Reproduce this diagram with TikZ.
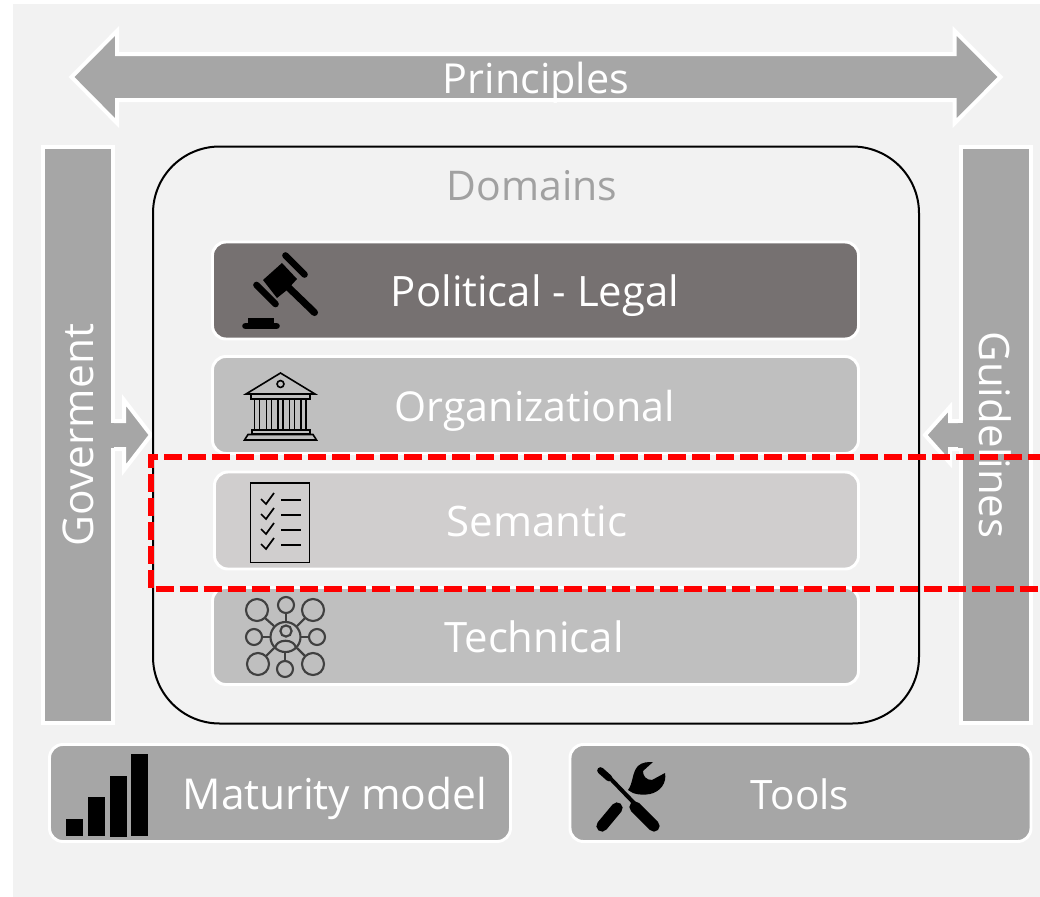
\documentclass[tikz,border=0pt]{standalone}
\usepackage{fontspec}
\setmainfont{Open Sans}
\definecolor{bg}{HTML}{F2F2F2}
\definecolor{midg}{HTML}{A6A6A6}
\definecolor{darkg}{HTML}{767171}
\definecolor{ltg}{HTML}{BFBFBF}
\definecolor{semg}{HTML}{D0CECE}
\newcommand{\fsz}[1]{\fontsize{#1}{36}\selectfont}
\begin{document}
\begin{tikzpicture}[x=0.75pt,y=-0.75pt,line join=miter,
  lab/.style={text=white,anchor=base,inner sep=0pt,font=\fsz{#1}},
  lab/.default=31.5,
  rowbox/.style={draw=white,line width=2.2pt,rounded corners=10pt,inner sep=0pt,minimum height=72.75pt},
  sidebar/.style={draw=white,line width=3pt,fill=midg,inner sep=0pt,minimum width=52.5pt,minimum height=432pt},
  whiteline/.style={draw=white,line width=3pt,fill=midg},
  redframe/.style={draw=red,line width=4.5pt,dash pattern=on 13.5pt off 4.5pt},
]
\useasboundingbox (0,0) rectangle (1040,897);
\fill[bg] (13,4) rectangle (1040,897);

% Principles
\draw[whiteline] (71.5,77) -- (117,31) -- (117,54) -- (954.7,54) -- (954.7,31) -- (1000.5,77) -- (954.7,123) -- (954.7,100) -- (117,100) -- (117,123) -- cycle;
\node[lab=31] (principles) at (536,93) {Principles};

% Side bars
\node[sidebar] (gov) at (77.5,435) {};
\node[sidebar] (guide) at (996,435) {};
% side arrows
\draw[whiteline] (112,421) -- (124,421) -- (124,400) -- (151,435) -- (124,470) -- (124,449) -- (112,449);
\fill[midg] (108,422.5) rectangle (114,447.5);
\draw[whiteline] (962,421) -- (950,421) -- (950,407) -- (925,435) -- (950,463) -- (950,449) -- (962,449);
\fill[midg] (958,422.5) rectangle (965,447.5);
\node[lab=31.8,rotate=90] (govt) at (93,435) {Goverment};
\node[lab=31.5,rotate=-90] (guidet) at (979,435) {Guidelines};

% Domains frame
\node[draw=black,line width=1.5pt,rounded corners=50pt,minimum width=574.5pt,minimum height=432.75pt,inner sep=0pt] (domains) at (536,435) {};
\node[text=black!37,anchor=base,font=\fsz{30.7},inner sep=0pt] (domt) at (532,200.5) {Domains};

% Domain rows
\node[rowbox,fill=darkg,minimum width=484.5pt] (pol) at (535.5,290.5) {};
\node[rowbox,fill=ltg,minimum width=484.5pt] (org) at (535.5,405) {};
\node[rowbox,fill=semg,minimum width=483pt] (sem) at (536.5,520.5) {};
\node[rowbox,fill=ltg,minimum width=484.5pt] (tec) at (535.5,636) {};
\node[lab=31.4] (polt) at (535,306) {Political - Legal};
\node[lab=30.9] (orgt) at (535,421) {Organizational};
\node[lab=31.5] (semt) at (537,536) {Semantic};
\node[lab=31.4] (tect) at (534,652) {Technical};

% Gavel
\fill[black] (263,280) -- (282,263) -- (297,279) -- (287,290) -- (277,298) -- cycle;
\draw[black,line width=5pt,line cap=round] (285.5,255.5) -- (304.5,274.5);
\draw[black,line width=5pt,line cap=round] (256.5,285) -- (275.5,304);
\draw[black,line width=5.3pt,line cap=round] (287,286) -- (314.5,312.5);
\fill[black] (248,318) rectangle (274,323);
\draw[black,line width=5pt,line cap=round] (245.5,326) -- (276.5,326);

% Bank
\begin{scope}[black,line width=1.2pt]
\draw (246,394) -- (280.5,373) -- (315,394) -- cycle;
\draw (280.5,384) circle (2.6pt);
\draw (251,394) rectangle (310,399);
\draw (252,430) rectangle (310,434);
\draw (244.5,440) -- (248,434.5) -- (313,434.5) -- (316.5,440) -- cycle;
\foreach \xx in {254.5,266.5,278,289.5,301}{
  \draw (\xx,399) rectangle (\xx+5,430);
}
\end{scope}

% Checklist
\draw[black,line width=1.4pt,fill=none] (250.5,483) rectangle (309.5,562.5);
\foreach \yy in {500,515,530,545}{
  \draw[black,line width=1.3pt] (261,\yy-1) -- (266,\yy+4) -- (274,\yy-7);
  \draw[black,line width=2pt] (281,\yy) -- (301,\yy);
}

% Network
\begin{scope}[black!75,line width=1.6pt]
\foreach \xx/\yy/\rr in {257/610/11,286/605/8,313/610/11,254/637/8,317/637/8,258/664/11,285/669/8,313/664/11}{
  \draw (\xx,\yy) circle ({\rr*0.75pt});
}
\draw (285.5,637) circle (11.25pt);
\draw (286,631) circle (4.2pt);
\draw (275,649) .. controls (275,638) and (296,638) .. (296,649);
\foreach \xa/\ya/\xb/\yb in {265/618/274/626,286/613/286/622,305/618/297/626,262/637/270/637,301/637/309/637,266/656/274/648,285/652/285/661,305/656/297/648}{
  \draw (\xa,\ya) -- (\xb,\yb);
}
\end{scope}

% Red frame
\draw[redframe] (1046,456.5) -- (151,456.5) -- (151,589) -- (1046,589);

% Bottom boxes
\node[rowbox,fill=midg,minimum width=345.75pt] (mat) at (280,793) {};
\node[rowbox,fill=midg,minimum width=345.75pt] (tools) at (800.5,793) {};
\node[lab=31.9] (matt) at (335,809) {Maturity model};
\node[lab=30.4] (toolt) at (800,809) {Tools};
\fill[black] (66,819) rectangle (83,836);
\fill[black] (88,797) rectangle (105,836);
\fill[black] (110,776) rectangle (127,837);
\fill[black] (131,754) rectangle (148,836);

% Tools icon
\draw[black,line width=5pt,line cap=round] (600.5,770.5) -- (609,778);
\draw[black,line width=3pt] (608,776) -- (634,803);
\draw[black,line width=8.5pt,line cap=round] (635,807) -- (654,826);
\draw[black,line width=8.5pt,line cap=round] (602,826) -- (617,808);
\fill[black] (628,790) .. controls (633,784) and (632,772) .. (638,766) .. controls (642,762) and (648,762) .. (653,762) -- (643,771) .. controls (643,776) and (646,780) .. (652,780) -- (665,773) .. controls (667,783) and (660,792) .. (650,794) .. controls (645,795) and (638,795) .. (633,793) -- cycle;
\end{tikzpicture}
\end{document}
